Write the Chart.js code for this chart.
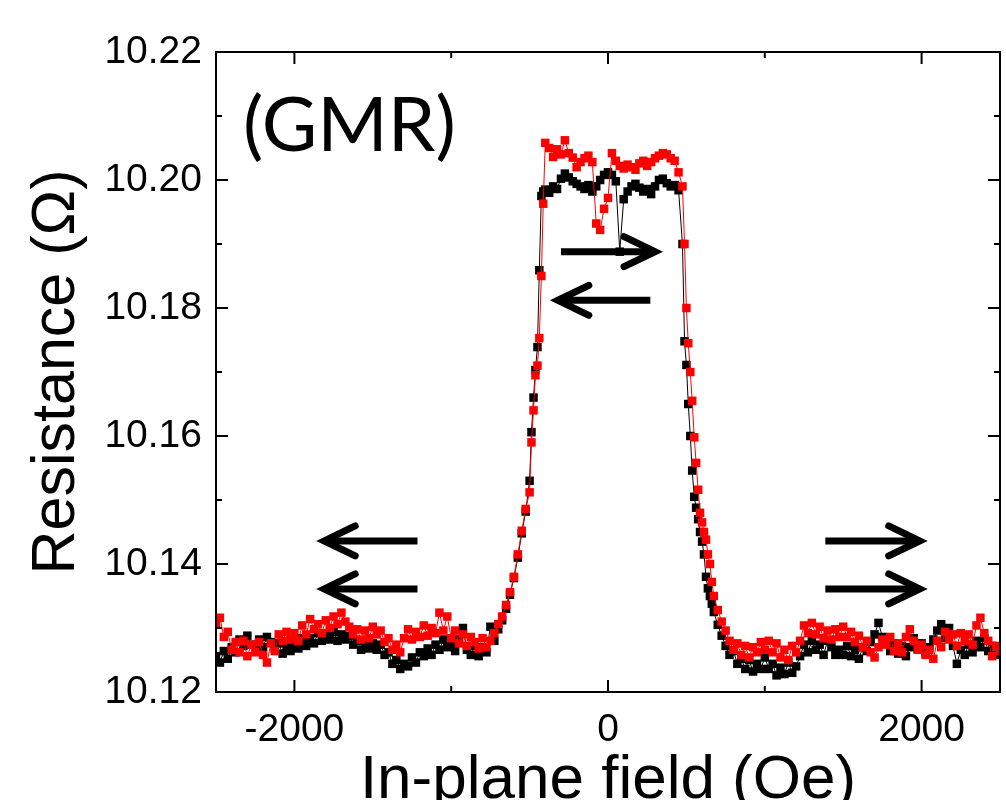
<!DOCTYPE html>
<html>
<head>
<meta charset="utf-8">
<title>GMR</title>
<script src="https://cdn.jsdelivr.net/npm/chart.js@4.4.1/dist/chart.umd.min.js"></script>
<style>
  body { margin: 0; background: #fff; }
  #wrap { width: 1006px; height: 800px; }
</style>
</head>
<body>
<div id="wrap"><canvas id="gmrChart" width="1006" height="800"></canvas></div>
<script>
// === Data ===
const field = [
  -2500, -2475, -2450, -2425, -2400, -2375, -2350, -2325, -2300, -2275, -2250, -2225, -2200, -2175, -2150, -2125, -2100, -2075, -2050, -2025,
  -2000, -1975, -1950, -1925, -1900, -1875, -1850, -1825, -1800, -1775, -1750, -1725, -1700, -1675, -1650, -1625, -1600, -1575, -1550, -1525,
  -1500, -1475, -1450, -1425, -1400, -1375, -1350, -1325, -1300, -1275, -1250, -1225, -1200, -1175, -1150, -1125, -1100, -1075, -1050, -1025,
  -1000, -975, -950, -925, -900, -875, -850, -825, -800, -775, -750, -725, -700, -675, -650, -625, -600, -575, -550, -525,
  -500, -488, -475, -463, -450, -438, -425, -413, -400, -375, -350, -325, -300, -275, -250, -225, -200, -175, -150, -125, -100, -75, -50, -25,
  0, 25, 50, 75, 100, 125, 150, 175, 200, 225, 250, 275, 300, 325, 350, 375, 400, 425, 450, 475,
  488, 500, 512, 525, 537, 550, 562, 575, 587, 600, 612, 625, 637, 650, 662, 675, 700, 725, 750, 775, 800, 825, 850, 875, 900, 925, 950, 975,
  1000, 1025, 1050, 1075, 1100, 1125, 1150, 1175, 1200, 1225, 1250, 1275, 1300, 1325, 1350, 1375, 1400, 1425, 1450, 1475,
  1500, 1525, 1550, 1575, 1600, 1625, 1650, 1675, 1700, 1725, 1750, 1775, 1800, 1825, 1850, 1875, 1900, 1925, 1950, 1975,
  2000, 2025, 2050, 2075, 2100, 2125, 2150, 2175, 2200, 2225, 2250, 2275, 2300, 2325, 2350, 2375, 2400, 2425, 2450, 2475,
  2500
];

// red sweep
const resRed = [
  10.1305, 10.1316, 10.1286, 10.1294, 10.1266, 10.1278, 10.1262, 10.1280, 10.1256, 10.1274, 10.1262, 10.1278, 10.1258, 10.1246, 10.1276, 10.1264, 10.1290, 10.1280, 10.1294, 10.1282,
  10.1292, 10.1280, 10.1304, 10.1290, 10.1314, 10.1298, 10.1306, 10.1292, 10.1312, 10.1300, 10.1318, 10.1306, 10.1324, 10.1310, 10.1302, 10.1290, 10.1298, 10.1282, 10.1296, 10.1284,
  10.1302, 10.1290, 10.1296, 10.1278, 10.1284, 10.1266, 10.1274, 10.1262, 10.1284, 10.1298, 10.1282, 10.1294, 10.1286, 10.1304, 10.1288, 10.1300, 10.1292, 10.1324, 10.1296, 10.1318,
  10.1284, 10.1296, 10.1276, 10.1290, 10.1272, 10.1286, 10.1278, 10.1268, 10.1284, 10.1270, 10.1280, 10.1292, 10.1306, 10.1318, 10.1336, 10.1356, 10.1380, 10.1415, 10.1452, 10.1486,
  10.1512, 10.1590, 10.1640, 10.1695, 10.1710, 10.1753, 10.1850, 10.1963, 10.2058, 10.2050, 10.2036, 10.2048, 10.2040, 10.2062, 10.2042, 10.2035, 10.2020, 10.2028, 10.2034, 10.2038, 10.2028, 10.1932, 10.1922, 10.1955,
  10.1972, 10.2042, 10.2030, 10.2022, 10.2018, 10.2024, 10.2020, 10.2016, 10.2026, 10.2030, 10.2022, 10.2028, 10.2034, 10.2038, 10.2042, 10.2040, 10.2034, 10.2030, 10.2012, 10.1990,
  10.1900, 10.1800, 10.1745, 10.1700, 10.1655, 10.1598, 10.1558, 10.1516, 10.1480, 10.1465, 10.1450, 10.1438, 10.1415, 10.1400, 10.1372, 10.1350, 10.1328, 10.1310, 10.1296, 10.1280, 10.1266, 10.1276, 10.1258, 10.1272, 10.1254, 10.1270, 10.1262, 10.1278,
  10.1266, 10.1280, 10.1262, 10.1276, 10.1254, 10.1266, 10.1250, 10.1272, 10.1262, 10.1280, 10.1304, 10.1292, 10.1308, 10.1290, 10.1302, 10.1284, 10.1296, 10.1282, 10.1298, 10.1286,
  10.1302, 10.1286, 10.1294, 10.1278, 10.1288, 10.1270, 10.1280, 10.1262, 10.1254, 10.1270, 10.1282, 10.1274, 10.1286, 10.1264, 10.1276, 10.1262, 10.1286, 10.1298, 10.1280, 10.1266,
  10.1274, 10.1258, 10.1266, 10.1252, 10.1280, 10.1270, 10.1294, 10.1282, 10.1290, 10.1272, 10.1292, 10.1280, 10.1290, 10.1274, 10.1304, 10.1316, 10.1292, 10.1280, 10.1256, 10.1272,
  10.1264
];

// black sweep
const resBlack = [
  10.1256, 10.1246, 10.1264, 10.1252, 10.1270, 10.1262, 10.1282, 10.1272, 10.1288, 10.1274, 10.1266, 10.1282, 10.1270, 10.1286, 10.1278, 10.1268, 10.1276, 10.1260, 10.1270, 10.1264,
  10.1276, 10.1268, 10.1284, 10.1272, 10.1284, 10.1276, 10.1292, 10.1280, 10.1290, 10.1282, 10.1294, 10.1280, 10.1290, 10.1282, 10.1288, 10.1274, 10.1280, 10.1266, 10.1276, 10.1268,
  10.1276, 10.1266, 10.1274, 10.1258, 10.1262, 10.1244, 10.1250, 10.1236, 10.1244, 10.1240, 10.1254, 10.1246, 10.1262, 10.1256, 10.1268, 10.1258, 10.1274, 10.1266, 10.1282, 10.1270,
  10.1274, 10.1264, 10.1282, 10.1300, 10.1266, 10.1258, 10.1272, 10.1256, 10.1270, 10.1262, 10.1302, 10.1280, 10.1298, 10.1312, 10.1330, 10.1352, 10.1378, 10.1410, 10.1448, 10.1482,
  10.1530, 10.1606, 10.1660, 10.1703, 10.1739, 10.1859, 10.1975, 10.1982, 10.1985, 10.1980, 10.1990, 10.1986, 10.2002, 10.2010, 10.2004, 10.1998, 10.1994, 10.1990, 10.1986, 10.1992, 10.1982, 10.1990, 10.2000, 10.2008,
  10.2012, 10.2008, 10.1998, 10.1888, 10.1970, 10.1982, 10.1990, 10.1994, 10.1988, 10.1982, 10.1986, 10.1978, 10.1990, 10.2000, 10.2002, 10.1995, 10.1990, 10.1992, 10.1984, 10.1900,
  10.1748, 10.1711, 10.1650, 10.1600, 10.1546, 10.1505, 10.1488, 10.1470, 10.1450, 10.1435, 10.1415, 10.1380, 10.1362, 10.1350, 10.1338, 10.1325, 10.1305, 10.1288, 10.1272, 10.1258, 10.1264, 10.1244, 10.1252, 10.1236, 10.1250, 10.1232, 10.1244, 10.1236,
  10.1254, 10.1236, 10.1244, 10.1226, 10.1238, 10.1228, 10.1246, 10.1230, 10.1240, 10.1256, 10.1274, 10.1262, 10.1280, 10.1266, 10.1274, 10.1258, 10.1280, 10.1270, 10.1258, 10.1266,
  10.1258, 10.1272, 10.1256, 10.1266, 10.1252, 10.1270, 10.1264, 10.1278, 10.1290, 10.1308, 10.1286, 10.1276, 10.1264, 10.1276, 10.1260, 10.1272, 10.1256, 10.1270, 10.1284, 10.1268,
  10.1276, 10.1262, 10.1270, 10.1282, 10.1296, 10.1306, 10.1284, 10.1300, 10.1272, 10.1244, 10.1266, 10.1258, 10.1274, 10.1262, 10.1280, 10.1270, 10.1284, 10.1264, 10.1272, 10.1258,
  10.1270
];

// axis ticks
const xTicks = [-2000, -1000, 0, 1000, 2000];
const xLabels = ["-2000", "0", "2000"];
const yTicks = [10.12, 10.13, 10.14, 10.15, 10.16, 10.17, 10.18, 10.19, 10.20, 10.21, 10.22];
const yLabels = ["10.12", "10.14", "10.16", "10.18", "10.20", "10.22"];

// field-direction arrows (in data units)
const arrows = [
  { from: -300, to: 300, y: 10.1888 },
  { from: 270, to: -320, y: 10.1812 },
  { from: -1215, to: -1810, y: 10.1436 },
  { from: -1215, to: -1810, y: 10.1361 },
  { from: 1386, to: 1988, y: 10.1436 },
  { from: 1386, to: 1988, y: 10.1361 }
];

const TICK_FONT = { family: "'Liberation Sans', Arial, sans-serif", size: 39 };

function isLabelled(list, v) {
  return list.some(s => Math.abs(parseFloat(s) - v) < 1e-6);
}

function drawArrow(ctx, x0, x1, y) {
  const dir = Math.sign(x1 - x0);
  ctx.lineWidth = 7;
  ctx.lineCap = "butt";
  ctx.beginPath();
  ctx.moveTo(x0, y);
  ctx.lineTo(x1 - dir * 4, y);
  ctx.stroke();
  ctx.lineCap = "round";
  ctx.lineJoin = "miter";
  ctx.beginPath();
  ctx.moveTo(x1 - dir * 31, y - 15);
  ctx.lineTo(x1, y);
  ctx.lineTo(x1 - dir * 31, y + 15);
  ctx.stroke();
}

// === Frame, inward ticks, arrows and label ===
const decorPlugin = {
  id: "decor",
  afterDatasetsDraw(chart) {
    const { ctx, chartArea: a, scales } = chart;
    const xs = scales.x, ys = scales.y;
    ctx.save();
    ctx.strokeStyle = "#000";
    ctx.lineWidth = 2;
    ctx.strokeRect(a.left, a.top, a.right - a.left, a.bottom - a.top);

    xTicks.forEach(v => {
      const px = xs.getPixelForValue(v);
      const len = isLabelled(xLabels, v) ? 12 : 6;
      ctx.beginPath();
      ctx.moveTo(px, a.bottom); ctx.lineTo(px, a.bottom - len);
      ctx.moveTo(px, a.top); ctx.lineTo(px, a.top + len);
      ctx.stroke();
    });
    yTicks.forEach(v => {
      const py = ys.getPixelForValue(v);
      const len = isLabelled(yLabels, v) ? 12 : 6;
      ctx.beginPath();
      ctx.moveTo(a.left, py); ctx.lineTo(a.left + len, py);
      ctx.moveTo(a.right, py); ctx.lineTo(a.right - len, py);
      ctx.stroke();
    });

    ctx.fillStyle = "#000";
    arrows.forEach(ar => {
      drawArrow(ctx, xs.getPixelForValue(ar.from), xs.getPixelForValue(ar.to), ys.getPixelForValue(ar.y));
    });

    ctx.font = "76px Lato, 'Open Sans', sans-serif";
    ctx.textBaseline = "alphabetic";
    ctx.textAlign = "left";
    ctx.fillText("(GMR)", a.left + 27, a.top + 99);
    ctx.restore();
  }
};

const ctx = document.getElementById("gmrChart").getContext("2d");
const gmrChart = new Chart(ctx, {
  type: "line",
  data: {
    datasets: [
      {
        label: "red",
        data: field.map((f, i) => ({ x: f, y: resRed[i] })),
        borderColor: "#ff0000",
        backgroundColor: "#ff0000",
        borderWidth: 1,
        pointStyle: "rect",
        pointRadius: 6,
        pointBorderWidth: 0,
        pointHoverRadius: 6,
        tension: 0
      },
      {
        label: "black",
        data: field.map((f, i) => ({ x: f, y: resBlack[i] })),
        borderColor: "#000000",
        backgroundColor: "#000000",
        borderWidth: 1,
        pointStyle: "rect",
        pointRadius: 6,
        pointBorderWidth: 0,
        pointHoverRadius: 6,
        tension: 0
      }
    ]
  },
  options: {
    responsive: false,
    animation: false,
    events: [],
    layout: { padding: { top: 52, right: 1, left: 0, bottom: 0 } },
    plugins: { legend: { display: false }, tooltip: { enabled: false } },
    scales: {
      x: {
        type: "linear",
        min: -2500,
        max: 2500,
        afterBuildTicks: s => { s.ticks = xTicks.map(v => ({ value: v })); },
        afterFit: s => { s.height = 108; },
        grid: { display: false, drawTicks: false },
        border: { display: false },
        ticks: {
          autoSkip: false,
          maxRotation: 0,
          padding: 15,
          color: "#000",
          font: TICK_FONT,
          callback: v => (isLabelled(xLabels, v) ? String(v) : "")
        },
        title: {
          display: true,
          text: "In-plane field (Oe)",
          color: "#000",
          font: { family: "'Liberation Sans', Arial, sans-serif", size: 62, lineHeight: 1 },
          padding: { top: 0, bottom: -12 }
        }
      },
      y: {
        type: "linear",
        min: 10.12,
        max: 10.22,
        afterBuildTicks: s => { s.ticks = yTicks.map(v => ({ value: v })); },
        afterFit: s => { s.width = 216; },
        grid: { display: false, drawTicks: false },
        border: { display: false },
        ticks: {
          autoSkip: false,
          padding: 14,
          color: "#000",
          font: TICK_FONT,
          callback: v => (isLabelled(yLabels, v) ? v.toFixed(2) : "")
        },
        title: {
          display: true,
          text: "Resistance (Ω)",
          color: "#000",
          font: { family: "'Liberation Sans', Arial, sans-serif", size: 61, lineHeight: 1 },
          padding: { top: 27, bottom: 0 }
        }
      }
    }
  },
  plugins: [decorPlugin]
});
</script>
</body>
</html>
